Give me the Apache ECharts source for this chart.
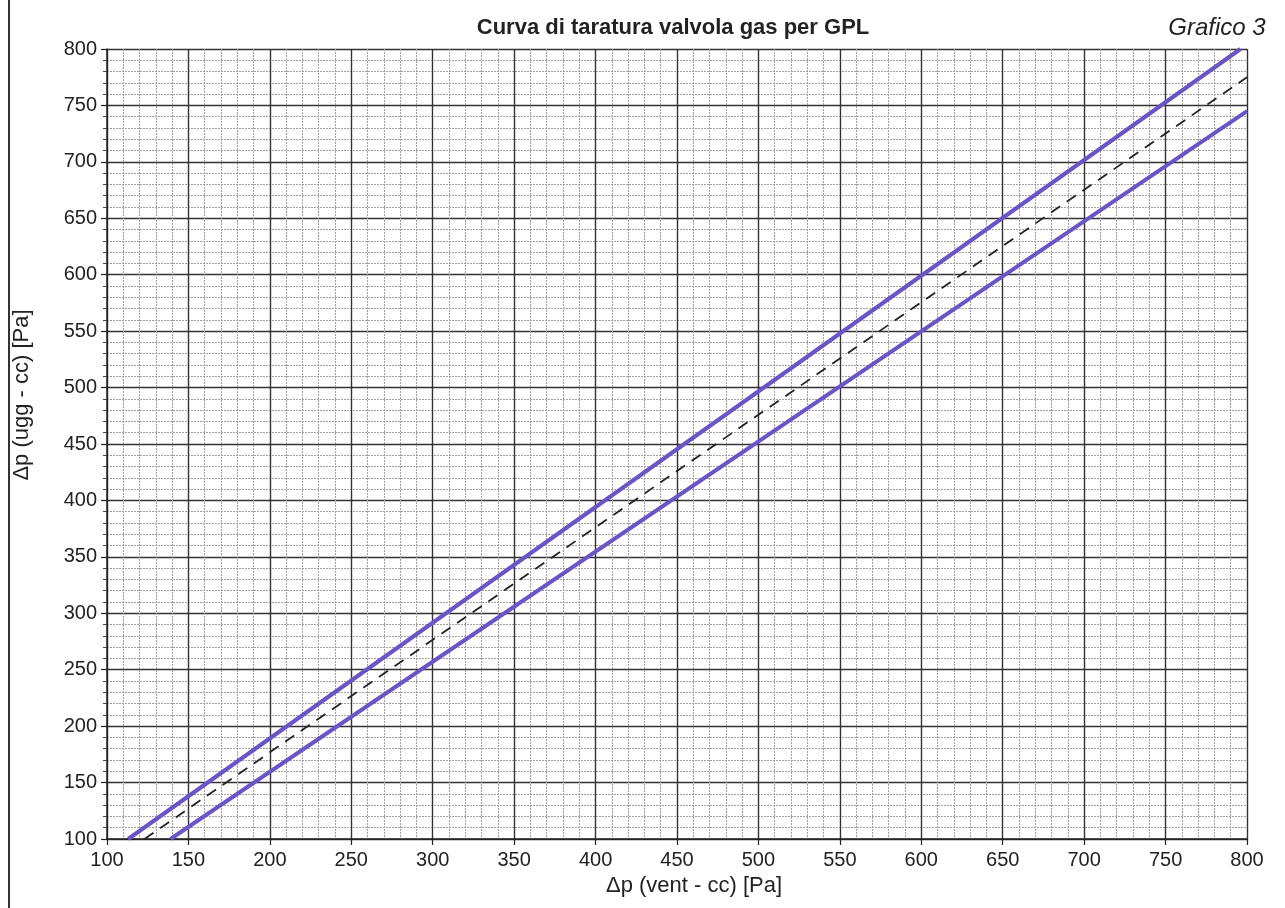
<!DOCTYPE html>
<html><head><meta charset="utf-8">
<script src="https://cdn.jsdelivr.net/npm/echarts@6/dist/echarts.min.js"></script>
<style>html,body{margin:0;padding:0;background:#fff}#c{width:1285px;height:908px}</style>
</head><body><div id="c"></div>
<script>
const titleText = 'Curva di taratura valvola gas per GPL';
const subText = 'Grafico 3';
const xName = 'Δp (vent - cc) [Pa]';
const yName = 'Δp (ugg - cc) [Pa]';
const upperLine = [[113, 100], [796, 800]];
const lowerLine = [[139, 100], [800, 745]];
const dashedLine = [[123, 100], [800, 775]];
const axisMin = 100, axisMax = 800, axisStep = 50;

const chart = echarts.init(document.getElementById('c'), null, {renderer: 'canvas'});
const font = 'Liberation Sans, Arial, sans-serif';
function axis(name, isY) {
  return {
    type: 'value', min: axisMin, max: axisMax, interval: axisStep,
    name: name, nameLocation: 'middle', nameGap: isY ? 74 : 34,
    nameTextStyle: {fontFamily: font, fontSize: 22, color: '#222',
                    padding: isY ? [0, 0, 0, 98] : [0, 0, 0, 34]},
    axisLine: {show: true, lineStyle: {color: '#222', width: 1.5}},
    axisTick: {show: true, length: 6, lineStyle: {color: '#222', width: 1.2}},
    minorTick: {show: isY, splitNumber: 5, length: 4, lineStyle: {color: '#444'}},
    axisLabel: {fontFamily: font, fontSize: 20, color: '#222', margin: isY ? 10 : 11},
    splitLine: {show: true, lineStyle: {color: '#333', width: 1.4}},
    minorSplitLine: {show: true, lineStyle: {color: '#a0a0a0', width: 1, type: [2, 1]}}
  };
}
chart.setOption({
  backgroundColor: '#fff',
  animation: false,
  title: [
    {text: titleText, left: 668, top: 12, textAlign: 'center',
     textStyle: {fontFamily: font, fontSize: 22, fontWeight: 'bold', color: '#222'}},
    {text: subText, left: 1212, top: 11, textAlign: 'center',
     textStyle: {fontFamily: font, fontSize: 24, fontStyle: 'italic', fontWeight: 'normal', color: '#222'}}
  ],
  grid: {left: 107, right: 38, top: 49, bottom: 69},
  xAxis: axis(xName, false),
  yAxis: axis(yName, true),
  graphic: [{type: 'line', shape: {x1: 9, y1: 0, x2: 9, y2: 908}, style: {stroke: '#333', lineWidth: 2}}],
  series: [
    {type: 'line', data: upperLine, symbol: 'none', lineStyle: {color: '#6A54C6', width: 4}},
    {type: 'line', data: lowerLine, symbol: 'none', lineStyle: {color: '#6A54C6', width: 4}},
    {type: 'line', data: dashedLine, symbol: 'none', lineStyle: {color: '#222', width: 1.8, type: [11, 8]}}
  ]
});
</script></body></html>
